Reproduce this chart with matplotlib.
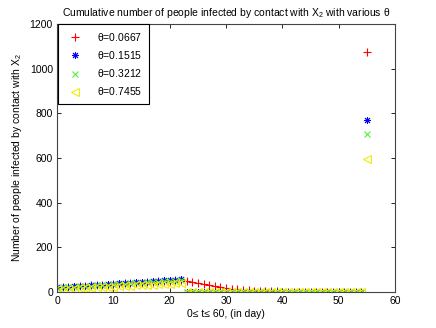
import numpy as np
import matplotlib
matplotlib.use('Agg')
import matplotlib.pyplot as plt

plt.rcParams['font.family'] = ['Liberation Sans', 'DejaVu Sans']
plt.rcParams['mathtext.fontset'] = 'custom'
plt.rcParams['mathtext.rm'] = 'Liberation Sans'
plt.rcParams['mathtext.it'] = 'Liberation Sans'

# days 0..55
days = list(range(56))

thetas = ['0.0667', '0.1515', '0.3212', '0.7455']

# cumulative infected
red = [20, 21, 23, 24, 26, 27, 29, 30, 32, 33, 35, 36, 38, 39, 41, 42, 44, 45, 47, 48, 50, 52, 54,
       50, 45, 40, 35, 30, 25, 21, 17, 14, 11, 9, 7, 5, 4, 3, 2, 2, 1, 1, 1, 0, 0, 0, 0, 0, 0, 0, 0, 0, 0, 0, 0,
       1075]
blue = [21, 22, 24, 25, 27, 28, 30, 31, 33, 35, 36, 38, 40, 41, 43, 45, 46, 48, 50, 52, 53, 55, 57,
        1, 1, 1, 1, 1, 1, 1, 1, 1, 1, 1, 1, 1, 1, 1, 1, 1, 1, 1, 1, 1, 1, 1, 1, 1, 1, 1, 1, 1, 1, 1, 1,
        772]
green = [19, 20, 22, 23, 25, 26, 28, 29, 31, 32, 34, 35, 37, 38, 40, 41, 43, 44, 46, 47, 49, 50, 52,
         1, 1, 1, 1, 1, 1, 1, 1, 1, 1, 1, 1, 1, 1, 1, 1, 1, 1, 1, 1, 1, 1, 1, 1, 1, 1, 1, 1, 1, 1, 1, 1,
         706]
yellow = [12, 13, 14, 15, 17, 18, 19, 20, 22, 23, 24, 25, 27, 28, 29, 30, 32, 33, 34, 35, 37, 38, 39,
          0, 0, 0, 0, 0, 0, 0, 0, 0, 0, 0, 0, 0, 0, 0, 0, 0, 0, 0, 0, 0, 0, 0, 0, 0, 0, 0, 0, 0, 0, 0, 0,
          593]

fig = plt.figure(figsize=(4.36, 3.28), dpi=100)
ax = fig.add_axes([0.131, 0.110, 0.775, 0.817])

ax.plot(days, red, '+', color='red', ms=6, mew=0.8, label=r'$\theta$=' + thetas[0])
ax.plot(days, blue, marker=(8, 2, 0), ls='none', color='blue', ms=5, mew=0.7,
        label=r'$\theta$=' + thetas[1])
ax.plot(days, green, 'x', color='#55ee33', ms=4, mew=0.8, label=r'$\theta$=' + thetas[2])
ax.plot(days, yellow, '<', color='#eeee00', ms=6, mew=0.8, mfc='none', label=r'$\theta$=' + thetas[3])

ax.set_xlim(0, 60)
ax.set_ylim(0, 1200)
ax.set_xticks(range(0, 61, 10))
ax.set_yticks(range(0, 1201, 200))
ax.tick_params(direction='in', top=True, right=True, labelsize=7.5, length=3, width=0.6, pad=3)
for s in ax.spines.values():
    s.set_linewidth(0.8)
    s.set_color('#444444')

ax.set_title(r'Cumulative number of people infected by contact with X$_2$ with various $\theta$',
             fontsize=7.5, pad=6)
ax.set_ylabel(r'Number of people infected by contact with X$_2$', fontsize=7.5)
ax.set_xlabel('0≤ t≤ 60, (in day)', fontsize=7.5, labelpad=2)

leg = ax.legend(loc='upper left', fontsize=7.5, borderaxespad=0.05, fancybox=False,
                edgecolor='black', framealpha=1, handletextpad=1.0, borderpad=0.6,
                labelspacing=0.6, handlelength=2.2)
leg.get_frame().set_linewidth(0.8)

plt.savefig('out.png', dpi=100)
